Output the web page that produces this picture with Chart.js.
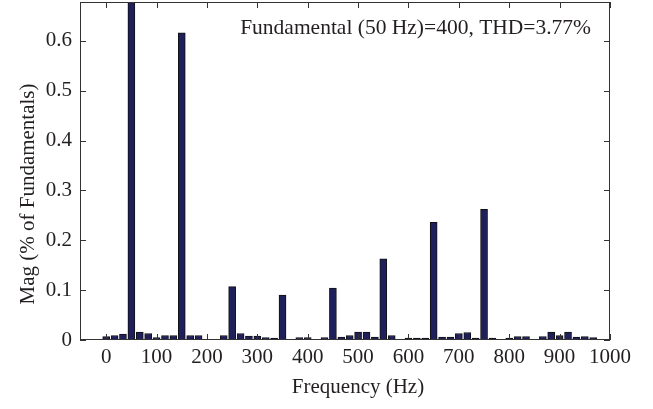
<!DOCTYPE html>
<html>
<head>
<meta charset="utf-8">
<title>Harmonic spectrum</title>
<script src="https://cdn.jsdelivr.net/npm/chart.js@4.4.1/dist/chart.umd.min.js"></script>
<style>
    body { margin: 0; background: #fff; }
    #chart-box { width: 653px; height: 409px; }
</style>
</head>
<body>
<div id="chart-box">
    <canvas id="spectrum" width="653" height="409"></canvas>
</div>
<script>
"use strict";

// Frequencies of the bars (Hz), steps of 50/3 Hz
const freqs = [0, 16.7, 33.3, 50, 66.7, 83.3, 100, 116.7, 133.3, 150,
    166.7, 183.3, 200, 216.7, 233.3, 250, 266.7, 283.3, 300, 316.7,
    333.3, 350, 366.7, 383.3, 400, 416.7, 433.3, 450, 466.7, 483.3,
    500, 516.7, 533.3, 550, 566.7, 583.3, 600, 616.7, 633.3, 650,
    666.7, 683.3, 700, 716.7, 733.3, 750, 766.7, 783.3, 800, 816.7,
    833.3, 850, 866.7, 883.3, 900, 916.7, 933.3, 950, 966.7, 983.3, 1000];

// Magnitude in % of the fundamental (the 50 Hz bar goes off the top)
const mags = [0.007, 0.009, 0.012, 100, 0.016, 0.013, 0.005, 0.009, 0.009, 0.616,
    0.009, 0.009, 0, 0, 0.009, 0.107, 0.013, 0.008, 0.008, 0.005,
    0.004, 0.090, 0, 0.005, 0.005, 0, 0.005, 0.104, 0.006, 0.009,
    0.016, 0.016, 0.006, 0.163, 0.009, 0, 0.004, 0.004, 0.004, 0.236,
    0.006, 0.006, 0.013, 0.015, 0.004, 0.262, 0.004, 0, 0.004, 0.007,
    0.007, 0, 0.007, 0.016, 0.009, 0.016, 0.006, 0.007, 0.005, 0, 0];

const xTicks = [0, 100, 200, 300, 400, 500, 600, 700, 800, 900, 1000];
const yTicks = [0, 0.1, 0.2, 0.3, 0.4, 0.5, 0.6];
const yTickLabels = ["0", "0.1", "0.2", "0.3", "0.4", "0.5", "0.6"];

const xTitle = "Frequency (Hz)";
const yTitle = "Mag (% of Fundamentals)";
const note = "Fundamental (50 Hz)=400, THD=3.77%";

const serif = "'Liberation Serif', 'Times New Roman', serif";
const textColor = "#231f20";
const fontSize = 21;

/**
 * Frame round the plot, inward ticks on all four sides,
 * axis titles and the note top right
 */
const framePlugin = {
    id: "frame",
    afterDraw(chart) {
        const ctx = chart.ctx;
        const area = chart.chartArea;
        const xs = chart.scales.x;
        const ys = chart.scales.y;
        const len = 6;

        ctx.save();
        ctx.strokeStyle = "#333";
        ctx.lineWidth = 1;
        ctx.strokeRect(area.left + 0.5, area.top + 0.5, area.right - area.left - 1, area.bottom - area.top - 1);

        ctx.beginPath();
        xTicks.forEach(v => {
            let px = Math.round(xs.getPixelForValue(v)) + 0.5;
            ctx.moveTo(px, area.bottom);
            ctx.lineTo(px, area.bottom - len);
            ctx.moveTo(px, area.top);
            ctx.lineTo(px, area.top + len);
        });
        yTicks.forEach(v => {
            let py = Math.round(ys.getPixelForValue(v)) + 0.5;
            ctx.moveTo(area.left, py);
            ctx.lineTo(area.left + len, py);
            ctx.moveTo(area.right, py);
            ctx.lineTo(area.right - len, py);
        });
        ctx.stroke();

        ctx.fillStyle = textColor;
        ctx.font = "21.5px " + serif;
        ctx.textAlign = "right";
        ctx.textBaseline = "alphabetic";
        ctx.fillText(note, area.right - 19, area.top + 32);

        // axis titles
        ctx.font = fontSize + "px " + serif;
        ctx.textAlign = "center";
        ctx.textBaseline = "middle";
        ctx.fillText(xTitle, 358, 387);

        ctx.translate(28, 194);
        ctx.rotate(-Math.PI / 2);
        ctx.fillText(yTitle, 0, 0);
        ctx.restore();
    }
};

const canvas = document.getElementById("spectrum");

new Chart(canvas, {
    type: "bar",
    data: {
        datasets: [{
            label: "Mag",
            data: freqs.map((f, i) => ({ x: f, y: mags[i] })),
            backgroundColor: "#1f1f5c",
            borderColor: "#111",
            borderWidth: 1,
            borderSkipped: "start",
            barThickness: 7
        }]
    },
    options: {
        responsive: false,
        animation: false,
        devicePixelRatio: 1,
        layout: {
            padding: { top: 2, right: 43, left: 0, bottom: 0 }
        },
        plugins: {
            legend: { display: false },
            tooltip: { enabled: false }
        },
        scales: {
            x: {
                type: "linear",
                offset: false,
                min: -52,
                max: 1000,
                grid: { display: false, drawTicks: false },
                border: { display: false },
                afterBuildTicks: scale => {
                    scale.ticks = xTicks.map(v => ({ value: v }));
                },
                afterFit: scale => {
                    scale.height = 69;
                    scale.paddingLeft = 0;
                    scale.paddingRight = 0;
                },
                ticks: {
                    padding: 5,
                    color: textColor,
                    font: { family: serif, size: fontSize },
                    maxRotation: 0,
                    callback: (v, i) => String(xTicks[i])
                }
            },
            y: {
                min: 0,
                max: 0.678,
                grid: { display: false, drawTicks: false },
                border: { display: false },
                afterBuildTicks: scale => {
                    scale.ticks = yTicks.map(v => ({ value: v }));
                },
                afterFit: scale => {
                    scale.width = 80;
                    scale.paddingTop = 0;
                    scale.paddingBottom = 0;
                },
                ticks: {
                    padding: 8,
                    color: textColor,
                    font: { family: serif, size: fontSize },
                    callback: (v, i) => yTickLabels[i]
                }
            }
        }
    },
    plugins: [framePlugin]
});
</script>
</body>
</html>
